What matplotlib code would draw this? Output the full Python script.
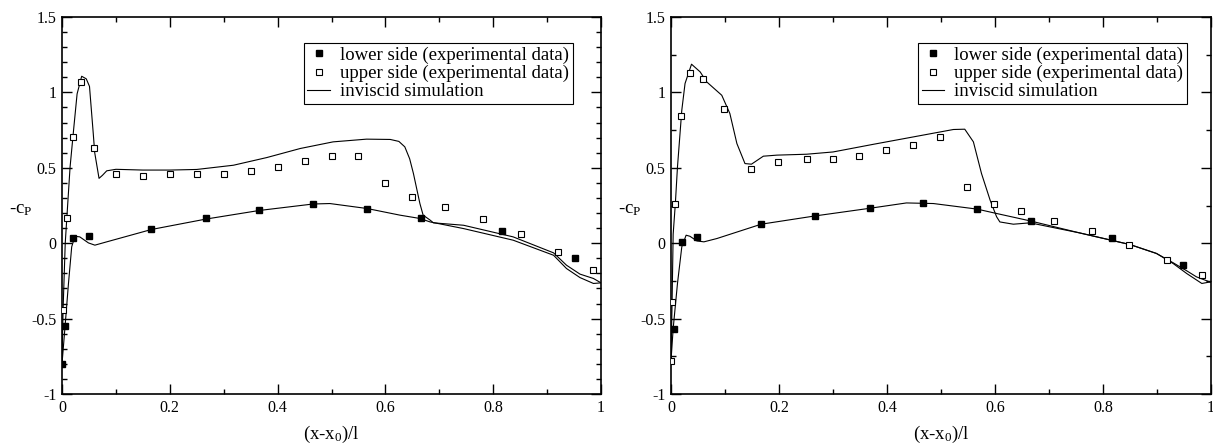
import matplotlib
matplotlib.use("Agg")
import matplotlib.pyplot as plt
from matplotlib.ticker import MultipleLocator, FuncFormatter
from matplotlib.lines import Line2D

plt.rcParams['font.family'] = ['Liberation Serif', 'DejaVu Serif']
plt.rcParams['mathtext.default'] = 'regular'
plt.rcParams['axes.unicode_minus'] = False

# ---------------- data: left panel ----------------
L_low_x = [0.0, 0.006, 0.02, 0.05, 0.166, 0.267, 0.366, 0.466, 0.566, 0.666, 0.816, 0.951]
L_low_y = [-0.80, -0.55, 0.033, 0.046, 0.093, 0.164, 0.217, 0.261, 0.23, 0.17, 0.08, -0.10]
L_up_x = [0.002, 0.009, 0.021, 0.036, 0.06, 0.10, 0.151, 0.20, 0.25, 0.30, 0.35, 0.40,
          0.45, 0.50, 0.55, 0.60, 0.65, 0.711, 0.782, 0.851, 0.921, 0.986]
L_up_y = [-0.444, 0.17, 0.705, 1.07, 0.628, 0.46, 0.444, 0.457, 0.46, 0.462, 0.48, 0.506,
          0.546, 0.577, 0.579, 0.398, 0.307, 0.237, 0.159, 0.058, -0.06, -0.177]
L_simU_x = [0.0, 0.002, 0.006, 0.009, 0.015, 0.022, 0.028, 0.0365, 0.045, 0.051, 0.058,
            0.0607, 0.0687, 0.075, 0.083, 0.10, 0.15, 0.20, 0.25, 0.318, 0.38, 0.442,
            0.503, 0.565, 0.609, 0.625, 0.636, 0.645, 0.652, 0.664, 0.67, 0.683, 0.689,
            0.745, 0.837, 0.912, 0.936, 0.961, 0.986, 1.0]
L_simU_y = [-0.80, -0.44, 0.0, 0.17, 0.506, 0.77, 0.99, 1.107, 1.09, 1.04, 0.727,
            0.6, 0.43, 0.45, 0.48, 0.49, 0.485, 0.485, 0.489, 0.517, 0.568, 0.628,
            0.672, 0.69, 0.688, 0.675, 0.639, 0.56, 0.462, 0.263, 0.186, 0.153, 0.135,
            0.119, 0.042, -0.064, -0.146, -0.205, -0.234, -0.263]
L_simL_x = [0.0, 0.0056, 0.012, 0.018, 0.024, 0.033, 0.049, 0.061, 0.083, 0.166, 0.267,
            0.366, 0.466, 0.497, 0.566, 0.627, 0.664, 0.683, 0.745, 0.837, 0.912, 0.936,
            0.961, 0.986, 1.0]
L_simL_y = [-0.80, -0.555, -0.267, -0.024, 0.046, 0.042, 0.002, -0.013, 0.009, 0.091, 0.16,
            0.217, 0.26, 0.263, 0.23, 0.186, 0.164, 0.141, 0.097, 0.02, -0.08, -0.168,
            -0.228, -0.267, -0.263]

# ---------------- data: right panel ----------------
R_low_x = [0.006, 0.02, 0.049, 0.167, 0.267, 0.369, 0.467, 0.567, 0.667, 0.817, 0.948]
R_low_y = [-0.566, 0.005, 0.044, 0.13, 0.181, 0.234, 0.267, 0.227, 0.146, 0.035, -0.144]
R_up_x = [0.0, 0.002, 0.008, 0.019, 0.035, 0.06, 0.099, 0.149, 0.199, 0.251, 0.30, 0.349,
          0.399, 0.449, 0.499, 0.549, 0.599, 0.649, 0.709, 0.779, 0.848, 0.919, 0.983]
R_up_y = [-0.78, -0.389, 0.259, 0.842, 1.127, 1.092, 0.889, 0.489, 0.537, 0.559, 0.559, 0.581,
          0.615, 0.648, 0.703, 0.373, 0.263, 0.212, 0.150, 0.082, -0.01, -0.11, -0.212]
R_simU_x = [0.0, 0.002, 0.004, 0.008, 0.012, 0.02, 0.026, 0.038, 0.054, 0.066, 0.094, 0.109,
            0.122, 0.137, 0.149, 0.171, 0.196, 0.251, 0.30, 0.375, 0.449, 0.523, 0.544,
            0.56, 0.575, 0.591, 0.603, 0.609, 0.634, 0.665, 0.757, 0.85, 0.899, 0.93,
            0.955, 0.973, 1.0]
R_simU_y = [-0.78, -0.39, 0.06, 0.26, 0.506, 0.882, 1.059, 1.187, 1.136, 1.07, 0.981, 0.86,
            0.661, 0.528, 0.524, 0.577, 0.584, 0.59, 0.605, 0.656, 0.705, 0.754, 0.756,
            0.672, 0.462, 0.285, 0.175, 0.141, 0.126, 0.135, 0.068, -0.009, -0.068, -0.13,
            -0.183, -0.223, -0.26]
R_simL_x = [0.0, 0.004, 0.012, 0.02, 0.028, 0.035, 0.048, 0.061, 0.085, 0.167, 0.267, 0.369,
            0.436, 0.486, 0.567, 0.603, 0.665, 0.757, 0.85, 0.899, 0.93, 0.955, 0.983, 1.0]
R_simL_y = [-0.78, -0.566, -0.267, -0.024, 0.053, 0.046, 0.015, 0.009, 0.031, 0.126, 0.181,
            0.232, 0.267, 0.263, 0.226, 0.197, 0.148, 0.068, -0.009, -0.068, -0.135, -0.201,
            -0.267, -0.256]

legend_labels = ["lower side (experimental data)", "upper side (experimental data)",
                 "inviscid simulation"]
x_ticks = [0, 0.2, 0.4, 0.6, 0.8, 1]
y_ticks = [-1, -0.5, 0, 0.5, 1, 1.5]

W, H = 1213, 447
fig = plt.figure(figsize=(W / 100, H / 100), dpi=100)

fmt = FuncFormatter(lambda v, p: ('%g' % round(v, 6)))

panels = [
    dict(rect=[62 / W, (H - 394) / H, 539 / W, 377 / H], low=(L_low_x, L_low_y),
         up=(L_up_x, L_up_y), simU=(L_simU_x, L_simU_y), simL=(L_simL_x, L_simL_y),
         yminor=0.1, leg=(0.948, 0.931)),
    dict(rect=[671 / W, (H - 394) / H, 540 / W, 377 / H], low=(R_low_x, R_low_y),
         up=(R_up_x, R_up_y), simU=(R_simU_x, R_simU_y), simL=(R_simL_x, R_simL_y),
         yminor=0.25, leg=(0.956, 0.931)),
]

for p in panels:
    ax = fig.add_axes(p['rect'])
    ax.plot(*p['simU'], color='black', lw=0.8, zorder=2)
    ax.plot(*p['simL'], color='black', lw=0.8, zorder=2)
    ax.plot(*p['low'], ls='none', marker='s', ms=4.5, mfc='black', mec='black', zorder=3)
    ax.plot(*p['up'], ls='none', marker='s', ms=4.0, mfc='white', mec='black', mew=0.8, zorder=3)
    ax.set_xlim(0, 1)
    ax.set_ylim(-1, 1.5)
    ax.set_xticks(x_ticks)
    ax.set_yticks(y_ticks)
    ax.xaxis.set_minor_locator(MultipleLocator(0.1))
    ax.yaxis.set_minor_locator(MultipleLocator(p['yminor']))
    ax.xaxis.set_major_formatter(fmt)
    ax.yaxis.set_major_formatter(fmt)
    ax.tick_params(which='both', direction='in', top=True, right=True, width=1.0,
                   labelsize=11.5, pad=4)
    ax.tick_params(which='major', length=7)
    ax.tick_params(which='minor', length=3.6)
    for s in ax.spines.values():
        s.set_linewidth(1.2)
    ax.set_xlabel('(x-x$_0$)/l', fontsize=13.5, labelpad=6)
    ax.set_ylabel('-c$_P$', fontsize=13.5, rotation=0, labelpad=14, va='center')
    ax.yaxis.set_label_coords(-0.077, 0.49)

    handles = [
        Line2D([], [], ls='none', marker='s', ms=4.5, mfc='black', mec='black'),
        Line2D([], [], ls='none', marker='s', ms=4.0, mfc='white', mec='black', mew=0.8),
        Line2D([], [], color='black', lw=0.8),
    ]
    leg = ax.legend(handles, legend_labels, loc='upper right', bbox_to_anchor=p['leg'],
                    borderaxespad=0, fontsize=13.5, frameon=True, fancybox=False,
                    framealpha=1, edgecolor='black', handlelength=1.2, handletextpad=0.55,
                    labelspacing=0.05, borderpad=0.2)
    leg.get_frame().set_linewidth(0.8)

fig.savefig('out.png', dpi=100)
